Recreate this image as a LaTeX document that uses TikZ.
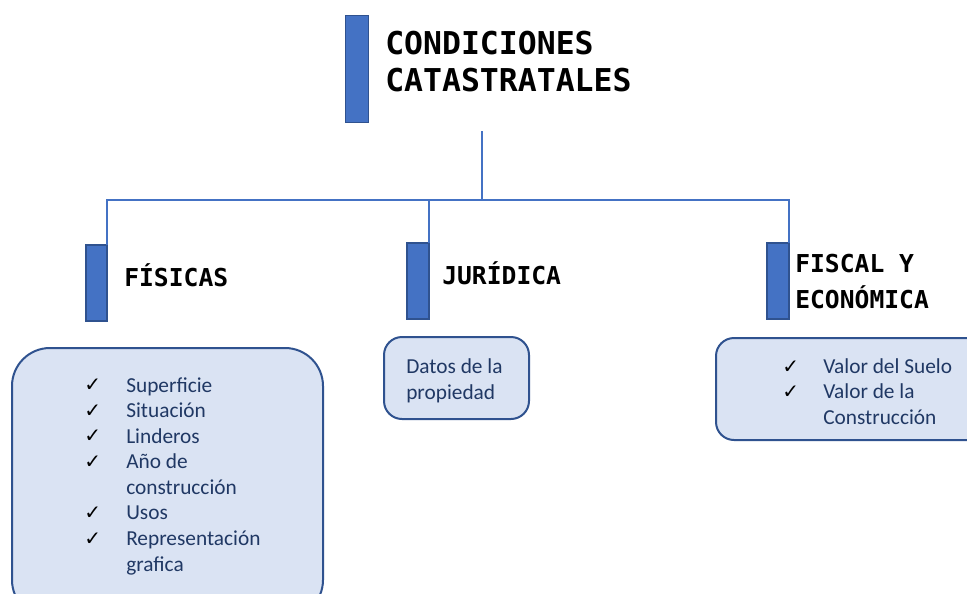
\documentclass[tikz,border=0pt]{standalone}
\usepackage{fontspec}
\setmainfont{Carlito}
\newfontfamily\hdfont{DejaVu Sans Mono}
\newfontfamily\symfont{DejaVu Sans}
\newdimen\pxu \pxu=0.75pt
\definecolor{barblue}{HTML}{4472C4}
\definecolor{bardark}{HTML}{2F528F}
\definecolor{boxfill}{HTML}{DAE3F3}
\definecolor{boxtext}{HTML}{203864}
\begin{document}
\begin{tikzpicture}[x=0.75pt,y=-0.75pt,
  bar/.style={draw=bardark,fill=barblue,line width=1.5\pxu,inner sep=0pt,outer sep=0pt},
  conn/.style={draw=barblue,line width=2\pxu},
  infobox/.style={draw=bardark,fill=boxfill,line width=2\pxu,inner sep=0pt,outer sep=0pt,anchor=north west},
  title/.style={anchor=base west,inner sep=0pt,font=\hdfont\bfseries\fontsize{23.6}{27}\selectfont},
  head/.style={anchor=base west,inner sep=0pt,font=\hdfont\bfseries\fontsize{18.5}{22}\selectfont},
  item/.style={anchor=base west,inner sep=0pt,text=boxtext,font=\fontsize{16}{19}\selectfont},
  tick/.style={anchor=base west,inner sep=0pt,font=\symfont\fontsize{15}{18}\selectfont}
]
\useasboundingbox (0,0) rectangle (967,593);
\clip (0,0) rectangle (967,593);
% title
\node[bar,minimum width=23\pxu,minimum height=107\pxu] (tbar) at (357,69) {};
\node[title] (t1) at (385,54) {CONDICIONES};
\node[title] (t2) at (385,91) {CATASTRATALES};
% bars
\node[bar,minimum width=21\pxu,minimum height=76\pxu] (fbar) at (96.5,283) {};
\node[bar,minimum width=22\pxu,minimum height=76\pxu] (jbar) at (418,281) {};
\node[bar,minimum width=22\pxu,minimum height=76\pxu] (ebar) at (778,281) {};
\node[head] (fh) at (124,286) {FÍSICAS};
\node[head] (jh) at (442,284) {JURÍDICA};
\node[head] (eh1) at (795,272) {FISCAL Y};
\node[head] (eh2) at (795,308) {ECONÓMICA};
% connectors
\coordinate (top) at (482,131);
\coordinate (hub) at (482,200);
\draw[conn] (top) -- (hub);
\draw[conn] (hub) -| (fbar.north east);
\draw[conn] (hub) -| (jbar.north east);
\draw[conn] (hub) -| (ebar.north east);
% boxes
\node[infobox,minimum width=311\pxu,minimum height=270\pxu,rounded corners=38\pxu] (fbox) at (12,348) {};
\node[infobox,minimum width=145\pxu,minimum height=82\pxu,rounded corners=18\pxu] (jbox) at (384,337) {};
\node[infobox,minimum width=270\pxu,minimum height=102\pxu,rounded corners=18\pxu] (ebox) at (716,338) {};
% fisicas list
\node[tick] (fc1) at (84,391) {✓};
\node[item] (fi1) at (126,392) {Superficie};
\node[tick] (fc2) at (84,417) {✓};
\node[item] (fi2) at (126,417.5) {Situación};
\node[tick] (fc3) at (84,442) {✓};
\node[item] (fi3) at (126,443) {Linderos};
\node[tick] (fc4) at (84,468) {✓};
\node[item] (fi4) at (126,468.5) {Año de};
\node[item] (fi5) at (126,494) {construcción};
\node[tick] (fc6) at (84,519) {✓};
\node[item] (fi6) at (126,519.5) {Usos};
\node[tick] (fc7) at (84,545) {✓};
\node[item] (fi7) at (126,545.5) {Representación};
\node[item] (fi8) at (126,571) {grafica};
% juridica
\node[item] (ji1) at (406,373) {Datos de la};
\node[item] (ji2) at (406,399) {propiedad};
% fiscal
\node[tick] (ec1) at (782,373) {✓};
\node[item] (ei1) at (823,373) {Valor del Suelo};
\node[tick] (ec2) at (782,398) {✓};
\node[item] (ei2) at (823,398) {Valor de la};
\node[item] (ei3) at (823,424) {Construcción};
\end{tikzpicture}
\end{document}
